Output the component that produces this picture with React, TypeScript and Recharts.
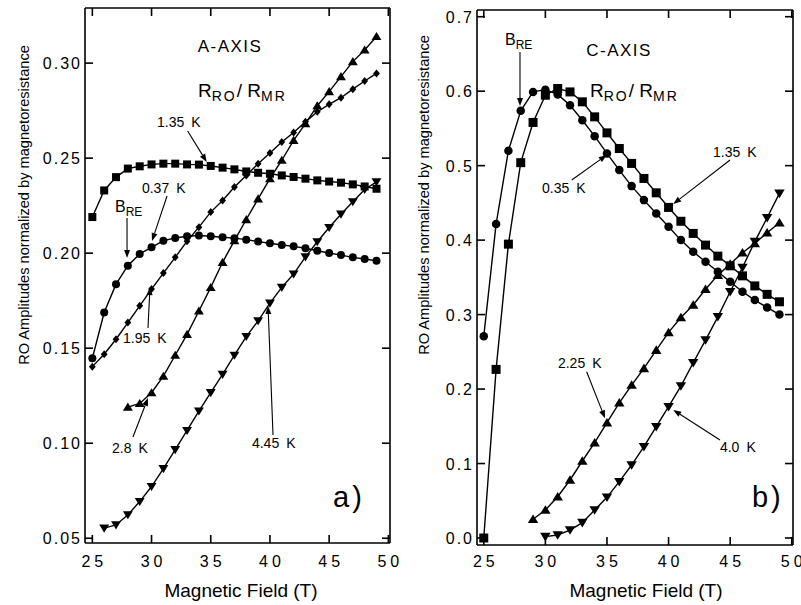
import React from 'react';
import { LineChart, Line, XAxis, YAxis, ReferenceLine, ReferenceDot } from 'recharts';

const FONT = '"Liberation Sans", Arial, Helvetica, sans-serif';

// ---- a) A-axis panel ----
const fieldA = [25, 26, 27, 28, 29, 30, 31, 32, 33, 34, 35, 36, 37, 38, 39, 40, 41, 42, 43, 44, 45, 46, 47, 48, 49];
const fieldA28 = [28, 29, 30, 31, 32, 33, 34, 35, 36, 37, 38, 39, 40, 41, 42, 43, 44, 45, 46, 47, 48, 49];
const fieldA26 = [26, 27, 28, 29, 30, 31, 32, 33, 34, 35, 36, 37, 38, 39, 40, 41, 42, 43, 44, 45, 46, 47, 48, 49];
const ampA135 = [0.219, 0.233, 0.24, 0.2445, 0.2457, 0.2467, 0.2471, 0.2471, 0.2467, 0.2466, 0.2459, 0.245, 0.2441, 0.243, 0.2423, 0.2418, 0.2409, 0.2401, 0.2392, 0.2383, 0.2377, 0.2371, 0.2362, 0.2351, 0.2339];
const ampA037 = [0.1447, 0.1688, 0.1837, 0.1934, 0.1996, 0.2031, 0.2066, 0.208, 0.2089, 0.2093, 0.2089, 0.2084, 0.2079, 0.2071, 0.2061, 0.2052, 0.2043, 0.2036, 0.2026, 0.2013, 0.2001, 0.199, 0.1978, 0.1969, 0.196];
const ampA195 = [0.1403, 0.1468, 0.1547, 0.1635, 0.1723, 0.1811, 0.1895, 0.1978, 0.2063, 0.2137, 0.2216, 0.2277, 0.2348, 0.2409, 0.2471, 0.2527, 0.2585, 0.2635, 0.2691, 0.2744, 0.2783, 0.2818, 0.2863, 0.2906, 0.2946];
const ampA28 = [0.119, 0.1209, 0.1266, 0.1353, 0.1463, 0.1573, 0.1696, 0.182, 0.1952, 0.2066, 0.2177, 0.2286, 0.2392, 0.2489, 0.2594, 0.2682, 0.2776, 0.285, 0.2929, 0.3008, 0.3069, 0.314];
const ampA445 = [0.0553, 0.057, 0.0623, 0.0693, 0.0772, 0.0866, 0.0966, 0.1067, 0.1169, 0.1266, 0.1362, 0.1463, 0.1561, 0.1644, 0.1737, 0.182, 0.189, 0.198, 0.206, 0.2135, 0.2205, 0.227, 0.2335, 0.2375];

// ---- b) C-axis panel ----
const fieldC = [25, 26, 27, 28, 29, 30, 31, 32, 33, 34, 35, 36, 37, 38, 39, 40, 41, 42, 43, 44, 45, 46, 47, 48, 49];
const fieldC29 = [29, 30, 31, 32, 33, 34, 35, 36, 37, 38, 39, 40, 41, 42, 43, 44, 45, 46, 47, 48, 49];
const fieldC30 = [30, 31, 32, 33, 34, 35, 36, 37, 38, 39, 40, 41, 42, 43, 44, 45, 46, 47, 48, 49];
const ampC035 = [0.271, 0.4215, 0.52, 0.5736, 0.599, 0.602, 0.5956, 0.581, 0.561, 0.5396, 0.5164, 0.494, 0.4725, 0.4537, 0.4358, 0.418, 0.4, 0.3843, 0.3709, 0.3575, 0.344, 0.3306, 0.3195, 0.3096, 0.3];
const ampC135 = [0.0, 0.2264, 0.3946, 0.504, 0.558, 0.5946, 0.6036, 0.599, 0.5857, 0.5655, 0.544, 0.523, 0.503, 0.4828, 0.4635, 0.4439, 0.4253, 0.409, 0.3933, 0.3785, 0.3655, 0.352, 0.3385, 0.3272, 0.3172];
const ampC225 = [0.0251, 0.0376, 0.0554, 0.0779, 0.1034, 0.128, 0.1548, 0.1816, 0.2054, 0.2278, 0.2523, 0.2761, 0.296, 0.3128, 0.334, 0.353, 0.368, 0.383, 0.3956, 0.41, 0.4233];
const ampC40 = [0.0018, 0.004, 0.0107, 0.0206, 0.0376, 0.0546, 0.0756, 0.098, 0.1226, 0.1494, 0.1763, 0.204, 0.2353, 0.2658, 0.297, 0.3306, 0.3633, 0.398, 0.43, 0.4627];

const ticksX = [25, 30, 35, 40, 45, 50];
const ticksYA = [0.05, 0.1, 0.15, 0.2, 0.25, 0.3];
const ticksYC = [0, 0.1, 0.2, 0.3, 0.4, 0.5, 0.6, 0.7];

const domXA: [number, number] = [24.38, 50.14];
const domYA: [number, number] = [0.0475, 0.329];
const domXC: [number, number] = [24.45, 50.1];
const domYC: [number, number] = [-0.0094, 0.709];

const pts = (xs: number[], ys: number[]) => xs.map((x, i) => ({ x, y: ys[i] }));

type Kind = 'circle' | 'square' | 'diamond' | 'up' | 'down';

const marker = (kind: Kind, s: number) => (p: any) => {
  const { cx, cy, index } = p;
  const key = `m-${kind}-${index}`;
  if (cx == null || cy == null) return <g key={key} />;
  const h = s / 2;
  if (kind === 'circle') return <circle key={key} cx={cx} cy={cy} r={h} fill="#000" />;
  if (kind === 'square') return <rect key={key} x={cx - h} y={cy - h} width={s} height={s} fill="#000" />;
  if (kind === 'diamond')
    return <path key={key} d={`M${cx},${cy - h}L${cx + h * 0.85},${cy}L${cx},${cy + h}L${cx - h * 0.85},${cy}Z`} fill="#000" />;
  if (kind === 'up')
    return <path key={key} d={`M${cx},${cy - h}L${cx + h * 1.1},${cy + h * 0.8}L${cx - h * 1.1},${cy + h * 0.8}Z`} fill="#000" />;
  return <path key={key} d={`M${cx},${cy + h}L${cx + h * 1.1},${cy - h * 0.8}L${cx - h * 1.1},${cy - h * 0.8}Z`} fill="#000" />;
};

// tick label plus inward tick marks (small filled bars) on both sides of the frame
const TICK = 8;
const TW = 1.6;
const xTick = (dy: number, plotH: number) => (p: any) => (
  <g>
    <rect x={p.x - TW / 2} y={p.y - TICK} width={TW} height={TICK} fill="#000" />
    <rect x={p.x - TW / 2} y={p.y - plotH} width={TW} height={TICK} fill="#000" />
    <text x={p.x + 2} y={p.y + dy} textAnchor="middle" fontFamily={FONT} fontSize={16} letterSpacing={4} fill="#000">
      {p.payload.value}
    </text>
  </g>
);

const yTick = (digits: number, plotW: number) => (p: any) => (
  <g>
    <rect x={p.x} y={p.y - TW / 2} width={TICK} height={TW} fill="#000" />
    <rect x={p.x + plotW - TICK} y={p.y - TW / 2} width={TICK} height={TW} fill="#000" />
    <text x={p.x - 3} y={p.y + 6} textAnchor="end" fontFamily={FONT} fontSize={16} letterSpacing={2} fill="#000">
      {Number(p.payload.value).toFixed(digits)}
    </text>
  </g>
);

const arrow = (p: any) => {
  const { x1, y1, x2, y2 } = p;
  if (x1 == null || x2 == null) return <g />;
  const dx = x2 - x1;
  const dy = y2 - y1;
  const len = Math.hypot(dx, dy) || 1;
  const ux = dx / len;
  const uy = dy / len;
  const bx = x2 - ux * 8;
  const by = y2 - uy * 8;
  return (
    <g>
      <line x1={x1} y1={y1} x2={bx} y2={by} stroke="#000" strokeWidth={1.1} />
      <path d={`M${x2},${y2}L${bx - uy * 3},${by + ux * 3}L${bx + uy * 3},${by - ux * 3}Z`} fill="#000" />
    </g>
  );
};

const note = (content: React.ReactNode, size = 14, anchor: 'start' | 'middle' = 'start', spacing = 0) => (p: any) => (
  <text x={p.cx} y={p.cy} textAnchor={anchor} fontFamily={FONT} fontSize={size} letterSpacing={spacing} fill="#000">
    {content}
  </text>
);

const tempLabel = (t: string) => (
  <>
    {t}
    <tspan dx={7}>K</tspan>
  </>
);

const ratioLabel = (
  <>
    R
    <tspan fontSize={14} dy={4} letterSpacing={2}>RO</tspan>
    <tspan dy={-4}>/ R</tspan>
    <tspan fontSize={14} dy={4} letterSpacing={2}>MR</tspan>
  </>
);

const breLabel = (
  <>
    B
    <tspan fontSize={12} dy={4}>RE</tspan>
  </>
);

const AX = { xAxisId: 'x', yAxisId: 'y' };

const lineProps = {
  ...AX,
  type: 'linear' as const,
  dataKey: 'y',
  stroke: '#000',
  strokeWidth: 1.4,
  isAnimationActive: false,
  activeDot: false,
};

const frameStroke = { stroke: '#000', strokeWidth: 1.6 };

const frameAxes = (
  domX: [number, number],
  domY: [number, number],
  ticksY: number[],
  digits: number,
  xDy: number,
  xH: number,
  yW: number,
  plotW: number,
  plotH: number,
) => [
  <XAxis
    key="xb"
    xAxisId="x"
    dataKey="x"
    type="number"
    domain={domX}
    allowDataOverflow
    ticks={ticksX}
    height={xH}
    tickSize={0}
    tickMargin={0}
    tickLine={false}
    axisLine={frameStroke}
    tick={xTick(xDy, plotH)}
  />,
  <XAxis key="xt" xAxisId="xt" type="number" domain={domX} allowDataOverflow ticks={ticksX} orientation="top" mirror tick={false} tickLine={false} axisLine={frameStroke} />,
  <YAxis
    key="yl"
    yAxisId="y"
    type="number"
    domain={domY}
    allowDataOverflow
    ticks={ticksY}
    width={yW}
    tickSize={0}
    tickMargin={0}
    tickLine={false}
    axisLine={frameStroke}
    tick={yTick(digits, plotW)}
  />,
  <YAxis key="yr" yAxisId="yr" type="number" domain={domY} allowDataOverflow ticks={ticksY} orientation="right" mirror tick={false} tickLine={false} axisLine={frameStroke} />,
];

export default function App() {
  return (
    <div style={{ position: 'absolute', left: 0, top: 0, width: 801, height: 605, background: '#fff' }}>
      <div style={{ position: 'absolute', left: 0, top: 0 }}>
        <LineChart width={420} height={605} margin={{ top: 8, right: 30, bottom: 0, left: 0 }}>
          {frameAxes(domXA, domYA, ticksYA, 2, 24, 62, 85, 305, 535)}
          <Line {...lineProps} data={pts(fieldA, ampA135)} dot={marker('square', 8)} />
          <Line {...lineProps} data={pts(fieldA, ampA037)} dot={marker('circle', 8)} />
          <Line {...lineProps} data={pts(fieldA, ampA195)} dot={marker('diamond', 8)} />
          <Line {...lineProps} data={pts(fieldA28, ampA28)} dot={marker('up', 9)} />
          <Line {...lineProps} data={pts(fieldA26, ampA445)} dot={marker('down', 9)} />

          <ReferenceLine {...AX} segment={[{ x: 33.05, y: 0.2643 }, { x: 34.66, y: 0.248 }]} shape={arrow} />
          <ReferenceLine {...AX} segment={[{ x: 31.31, y: 0.2301 }, { x: 30.04, y: 0.2064 }]} shape={arrow} />
          <ReferenceLine {...AX} segment={[{ x: 27.93, y: 0.2185 }, { x: 27.93, y: 0.1975 }]} shape={arrow} />
          <ReferenceLine {...AX} segment={[{ x: 29.7, y: 0.1606 }, { x: 29.87, y: 0.1822 }]} shape={arrow} />
          <ReferenceLine {...AX} segment={[{ x: 28.43, y: 0.1033 }, { x: 29.7, y: 0.1238 }]} shape={arrow} />
          <ReferenceLine {...AX} segment={[{ x: 40.26, y: 0.1043 }, { x: 39.84, y: 0.1722 }]} shape={arrow} />

          <ReferenceDot {...AX} x={36.63} y={0.306} shape={note('A-AXIS', 17, 'middle', 1.5)} />
          <ReferenceDot {...AX} x={33.92} y={0.282} shape={note(ratioLabel, 19)} />
          <ReferenceDot {...AX} x={30.46} y={0.2664} shape={note(tempLabel('1.35'))} />
          <ReferenceDot {...AX} x={29.19} y={0.2317} shape={note(tempLabel('0.37'))} />
          <ReferenceDot {...AX} x={26.91} y={0.2218} shape={note(breLabel, 16)} />
          <ReferenceDot {...AX} x={27.59} y={0.1527} shape={note(tempLabel('1.95'))} />
          <ReferenceDot {...AX} x={26.66} y={0.0949} shape={note(tempLabel('2.8'))} />
          <ReferenceDot {...AX} x={38.48} y={0.0975} shape={note(tempLabel('4.45'))} />
          <ReferenceDot {...AX} x={45.33} y={0.0664} shape={note('a)', 29, 'start', 3)} />
        </LineChart>
      </div>

      <div style={{ position: 'absolute', left: 400, top: 0 }}>
        <LineChart width={401} height={605} margin={{ top: 10, right: 8, bottom: 0, left: 0 }}>
          {frameAxes(domXC, domYC, ticksYC, 1, 22, 60, 77, 316, 535)}
          <Line {...lineProps} data={pts(fieldC, ampC035)} dot={marker('circle', 8.5)} />
          <Line {...lineProps} data={pts(fieldC, ampC135)} dot={marker('square', 9)} />
          <Line {...lineProps} data={pts(fieldC29, ampC225)} dot={marker('up', 9.5)} />
          <Line {...lineProps} data={pts(fieldC30, ampC40)} dot={marker('down', 9.5)} />

          <ReferenceLine {...AX} segment={[{ x: 27.94, y: 0.6526 }, { x: 27.94, y: 0.5801 }]} shape={arrow} />
          <ReferenceLine {...AX} segment={[{ x: 44.99, y: 0.5076 }, { x: 40.38, y: 0.4485 }]} shape={arrow} />
          <ReferenceLine {...AX} segment={[{ x: 32.14, y: 0.4807 }, { x: 34.98, y: 0.5143 }]} shape={arrow} />
          <ReferenceLine {...AX} segment={[{ x: 33.35, y: 0.2233 }, { x: 34.84, y: 0.1607 }]} shape={arrow} />
          <ReferenceLine {...AX} segment={[{ x: 44.17, y: 0.1316 }, { x: 40.38, y: 0.1719 }]} shape={arrow} />

          <ReferenceDot {...AX} x={26.72} y={0.662} shape={note(breLabel, 16)} />
          <ReferenceDot {...AX} x={35.98} y={0.6472} shape={note('C-AXIS', 17, 'middle', 1.5)} />
          <ReferenceDot {...AX} x={33.62} y={0.5918} shape={note(ratioLabel, 19)} />
          <ReferenceDot {...AX} x={43.61} y={0.5116} shape={note(tempLabel('1.35'))} />
          <ReferenceDot {...AX} x={29.73} y={0.4633} shape={note(tempLabel('0.35'))} />
          <ReferenceDot {...AX} x={31.02} y={0.2283} shape={note(tempLabel('2.25'))} />
          <ReferenceDot {...AX} x={44.17} y={0.1155} shape={note(tempLabel('4.0'))} />
          <ReferenceDot {...AX} x={46.77} y={0.0416} shape={note('b)', 29, 'start', 3)} />
        </LineChart>
      </div>

      <svg width={801} height={605} style={{ position: 'absolute', left: 0, top: 0, pointerEvents: 'none' }}>
        <g fontFamily={FONT} fill="#000">
          <text transform="translate(28.5,205) rotate(-90)" textAnchor="middle" fontSize={14.6}>
            RO Amplitudes normalized by magnetoresistance
          </text>
          <text transform="translate(428.5,195) rotate(-90)" textAnchor="middle" fontSize={14.6}>
            RO Amplitudes normalized by magnetoresistance
          </text>
          <text x={241} y={597} textAnchor="middle" fontSize={19}>
            Magnetic Field (T)
          </text>
          <text x={646} y={597} textAnchor="middle" fontSize={19}>
            Magnetic Field (T)
          </text>
        </g>
      </svg>
    </div>
  );
}
